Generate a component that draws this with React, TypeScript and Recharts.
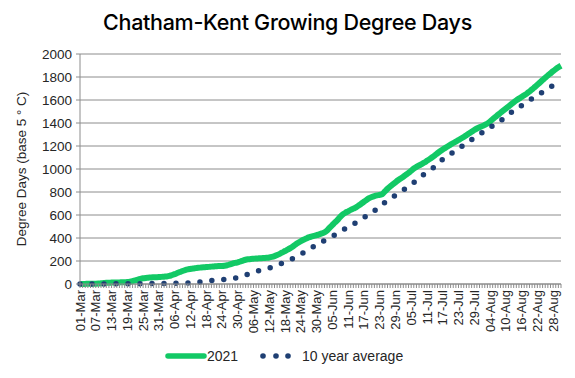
import React from 'react';
import { LineChart, Line, XAxis, YAxis, CartesianGrid } from 'recharts';

const monthNames = ['Mar', 'Apr', 'May', 'Jun', 'Jul', 'Aug'];
const monthDays = [31, 30, 31, 30, 31, 31];

// 2021 accumulated GDD, one value per day
const gdd2021Mar = [0, 0, 1, 2, 2, 3, 3, 4, 6, 8, 10, 11, 12, 13, 13, 14, 15, 16, 17, 20, 25, 32, 39, 45, 50, 53, 55, 57, 58, 59, 60];
const gdd2021Apr = [62, 64, 66, 70, 78, 86, 95, 104, 113, 121, 127, 131, 135, 138, 141, 143, 145, 147, 149, 151, 153, 155, 156, 157, 159, 163, 170, 177, 183, 188];
const gdd2021May = [196, 204, 211, 215, 218, 220, 222, 223, 224, 226, 228, 231, 236, 243, 252, 262, 274, 287, 299, 312, 327, 343, 358, 372, 385, 395, 405, 412, 418, 424, 432];
const gdd2021Jun = [440, 448, 465, 490, 513, 535, 558, 584, 605, 620, 632, 644, 655, 667, 682, 698, 715, 731, 746, 757, 765, 771, 775, 782, 805, 828, 848, 866, 884, 902];
const gdd2021Jul = [918, 933, 950, 966, 985, 1004, 1018, 1031, 1043, 1056, 1071, 1086, 1102, 1119, 1137, 1154, 1170, 1184, 1198, 1212, 1226, 1238, 1252, 1265, 1279, 1294, 1309, 1324, 1339, 1352, 1363];
const gdd2021Aug = [1373, 1384, 1396, 1413, 1432, 1452, 1470, 1489, 1507, 1525, 1543, 1562, 1580, 1597, 1612, 1626, 1641, 1656, 1674, 1692, 1712, 1732, 1752, 1773, 1793, 1813, 1832, 1851, 1869, 1885, 1898];

// 10 year average
const avgMar = [0, 0, 0, 0, 0, 0, 1, 1, 1, 1, 1, 1, 2, 2, 2, 2, 2, 2, 2, 3, 3, 3, 3, 3, 3, 4, 4, 4, 4, 4, 4];
const avgApr = [5, 5, 5, 6, 6, 6, 7, 7, 8, 8, 9, 10, 12, 14, 16, 18, 21, 24, 27, 30, 32, 34, 36, 38, 41, 44, 47, 50, 52, 55];
const avgMay = [61, 69, 78, 86, 93, 100, 107, 115, 121, 127, 133, 139, 145, 154, 163, 172, 182, 192, 202, 212, 222, 234, 246, 259, 272, 285, 299, 313, 327, 340, 353];
const avgJun = [366, 378, 390, 403, 415, 428, 442, 455, 468, 482, 495, 508, 521, 534, 548, 563, 577, 592, 607, 622, 638, 653, 672, 691, 710, 726, 741, 757, 772, 787];
const avgJul = [802, 817, 833, 849, 866, 882, 899, 918, 938, 957, 973, 988, 1004, 1020, 1041, 1063, 1084, 1100, 1116, 1131, 1147, 1162, 1178, 1193, 1208, 1224, 1240, 1256, 1272, 1286, 1301];
const avgAug = [1316, 1330, 1345, 1360, 1375, 1390, 1405, 1421, 1436, 1451, 1470, 1490, 1509, 1523, 1537, 1552, 1566, 1581, 1597, 1612, 1627, 1641, 1655, 1669, 1683, 1697, 1712, 1726, 1740, 1754, 1768];

const yTicks = [0, 200, 400, 600, 800, 1000, 1200, 1400, 1600, 1800, 2000];

const gdd2021 = [...gdd2021Mar, ...gdd2021Apr, ...gdd2021May, ...gdd2021Jun, ...gdd2021Jul, ...gdd2021Aug];
const gddAvg = [...avgMar, ...avgApr, ...avgMay, ...avgJun, ...avgJul, ...avgAug];

const dates: string[] = [];
monthNames.forEach((m, mi) => {
  for (let d = 1; d <= monthDays[mi]; d++) {
    dates.push(`${d < 10 ? '0' + d : d}-${m}`);
  }
});

const data = dates.map((date, i) => ({ date, y2021: gdd2021[i], avg: gddAvg[i] }));

const FONT = '"Liberation Sans", Arial, sans-serif';
const GREEN = '#12C965';
const NAVY = '#1F3F73';
const GRID = '#8C8C8C';
const TEXT = '#262626';

// daily tick marks, a date label every 6th day
const DateTick = (props: any) => {
  const { x, y, index, payload } = props;
  return (
    <g>
      <line x1={x} y1={y} x2={x} y2={y + 4} stroke={GRID} strokeWidth={1} />
      {index % 6 === 0 && (
        <text
          transform={`translate(${x},${y + 6}) rotate(-90)`}
          textAnchor="end"
          dy="0.35em"
          fontSize={13}
          fontFamily={FONT}
          fill={TEXT}
        >
          {payload.value}
        </text>
      )}
    </g>
  );
};

export default function App() {
  return (
    <div style={{ position: 'absolute', left: 0, top: 0, width: 575, height: 378, background: '#fff' }}>
      <div
        style={{
          position: 'absolute',
          left: 0,
          top: 9,
          width: 575,
          textAlign: 'center',
          fontFamily: 'Inter, sans-serif',
          fontSize: 21.5,
          fontWeight: 500,
          color: '#000',
          letterSpacing: -0.3,
        }}
      >
        Chatham-Kent Growing Degree Days
      </div>
      <div style={{ position: 'absolute', left: 0, top: 0 }}>
        <LineChart width={575} height={378} data={data} margin={{ top: 54, right: 14, bottom: 54, left: 0 }}>
          <CartesianGrid vertical={false} stroke={GRID} />
          <XAxis
            dataKey="date"
            height={40}
            interval={0}
            tickLine={false}
            tickSize={0}
            tickMargin={0}
            axisLine={{ stroke: GRID }}
            tick={<DateTick />}
          />
          <YAxis
            width={80}
            domain={[0, 2000]}
            ticks={yTicks}
            interval={0}
            tickSize={4}
            tickMargin={4}
            tickLine={{ stroke: GRID }}
            axisLine={{ stroke: GRID }}
            tick={{ fontSize: 13.5, fontFamily: FONT, fill: TEXT }}
            label={{
              value: 'Degree Days (base 5 ° C)',
              angle: -90,
              position: 'insideLeft',
              offset: 21,
              style: { textAnchor: 'middle', fontSize: 13.5, fontFamily: FONT, fill: TEXT },
            }}
          />
          <Line
            type="monotone"
            dataKey="y2021"
            name="2021"
            stroke={GREEN}
            strokeWidth={6}
            dot={false}
            isAnimationActive={false}
          />
          <Line
            type="monotone"
            dataKey="avg"
            name="10 year average"
            stroke={NAVY}
            strokeWidth={5.5}
            strokeDasharray="0 12"
            strokeLinecap="round"
            dot={false}
            isAnimationActive={false}
          />
        </LineChart>
      </div>
      <svg width={575} height={24} style={{ position: 'absolute', left: 0, top: 344 }}>
        <line x1={168} y1={12} x2={204} y2={12} stroke={GREEN} strokeWidth={5.5} strokeLinecap="round" />
        <text x={207} y={17} fontSize={14} fontFamily={FONT} fill={TEXT}>2021</text>
        <circle cx={263} cy={12} r={2.8} fill={NAVY} />
        <circle cx={276} cy={12} r={2.8} fill={NAVY} />
        <circle cx={288} cy={12} r={2.8} fill={NAVY} />
        <text x={302} y={17} fontSize={14} fontFamily={FONT} fill={TEXT}>10 year average</text>
      </svg>
    </div>
  );
}
